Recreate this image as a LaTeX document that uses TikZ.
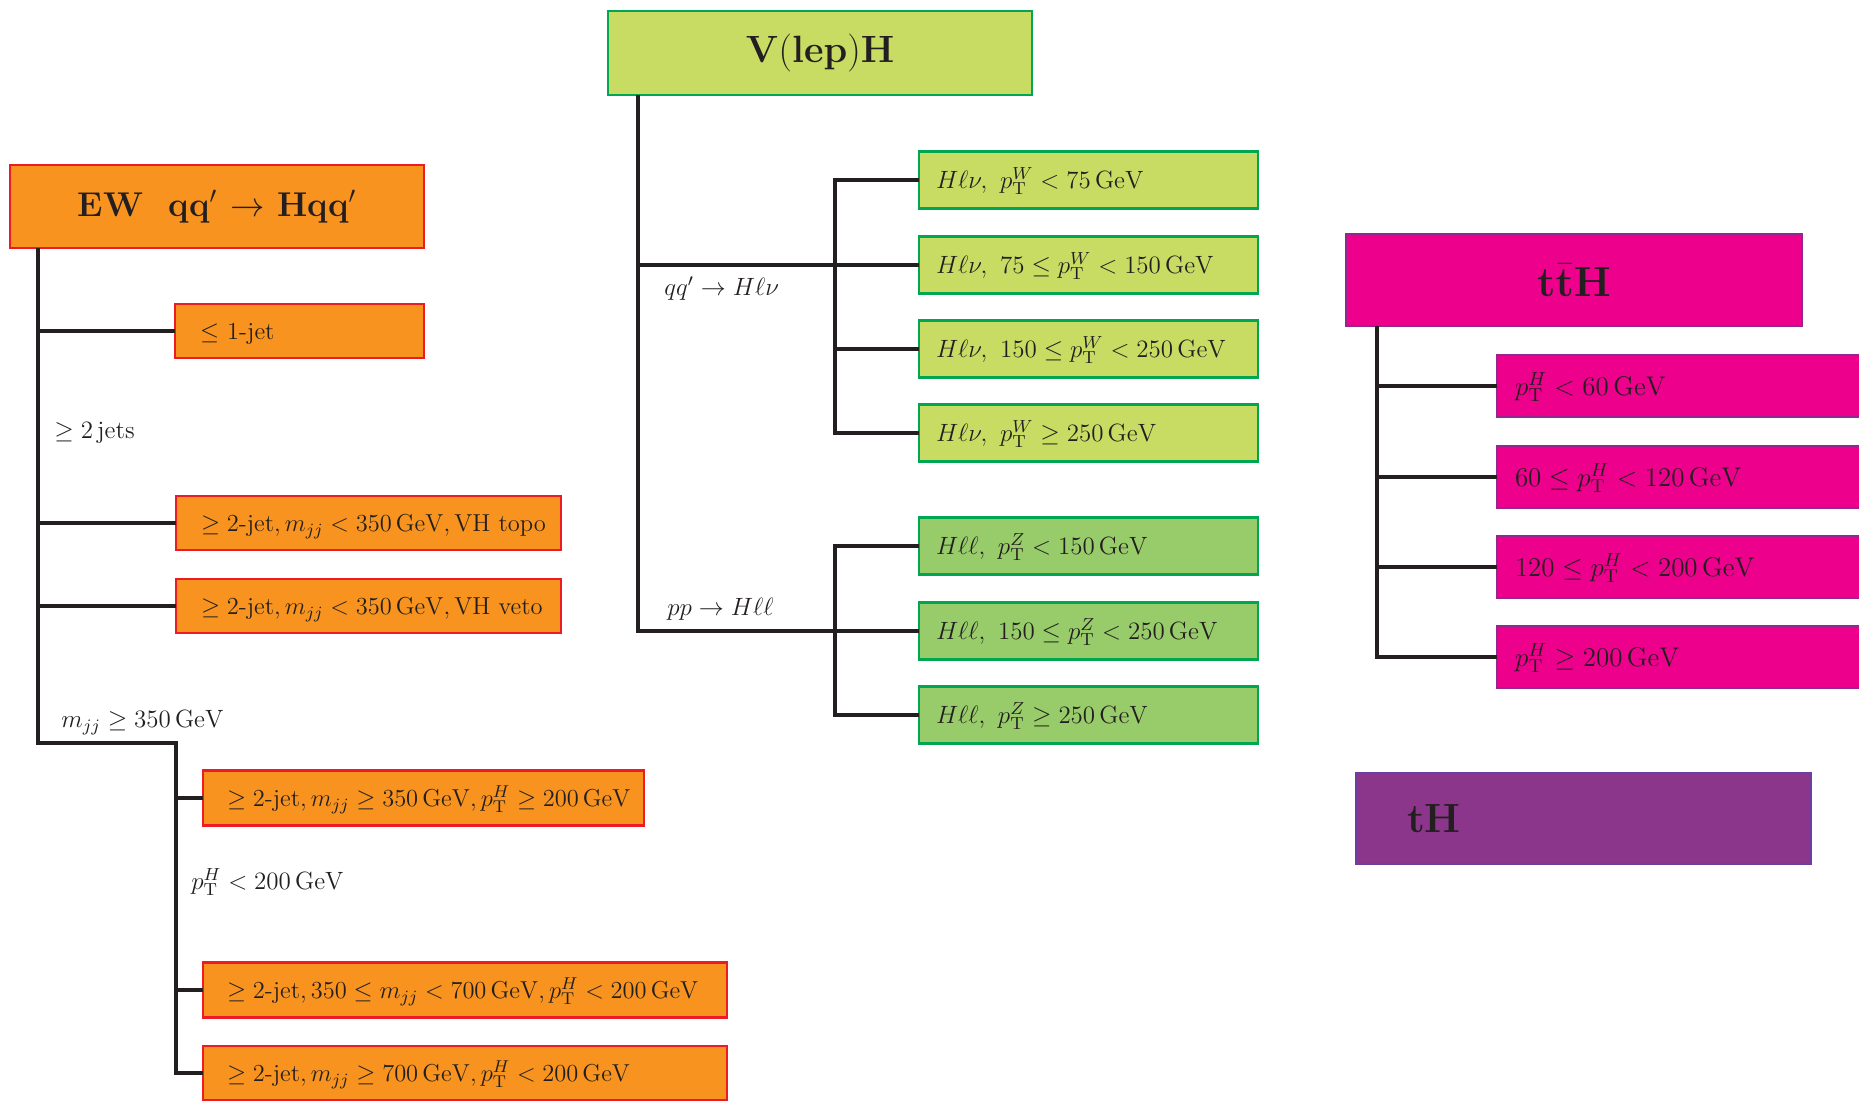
\RequirePackage{fix-cm}
\documentclass[tikz,border=0pt]{standalone}
\usepackage[no-math]{fontspec}
\definecolor{ewfill}{HTML}{F7931E}
\definecolor{ewline}{HTML}{ED1C24}
\definecolor{wfill}{HTML}{C8DC64}
\definecolor{zfill}{HTML}{98CC6A}
\definecolor{vline}{HTML}{00A651}
\definecolor{ttfill}{HTML}{EC008C}
\definecolor{ttline}{HTML}{92278F}
\definecolor{thfill}{HTML}{8B368B}
\definecolor{thline}{HTML}{6A3FA0}
\definecolor{ink}{HTML}{231F20}
\newcommand\leaffont{\fontsize{12.5}{15}\selectfont}
\newcommand\ewleaffont{\fontsize{12.25}{15}\selectfont}
\newcommand\ttleaffont{\fontsize{13.5}{16}\selectfont}
\newcommand\GeV{\,\mathrm{GeV}}
\newcommand\ptx[1]{p_{\mathrm{T}}^{#1}}
\tikzset{
  conn/.style={draw=ink, line width=1.6pt},
  headbox/.style={draw, rectangle, line width=1.4pt, inner sep=0pt, outer sep=0pt, text=ink},
  leaf/.style={draw, rectangle, line width=1.4pt, anchor=west, inner ysep=0pt,
               outer sep=0pt, align=left, text=ink, font=\leaffont,
               text height=8.6pt, text depth=0pt},
  lbl/.style={anchor=west, inner sep=0pt, text=ink, font=\leaffont},
  ewc/.style={fill=ewfill, draw=ewline, font=\ewleaffont},
  wc/.style={fill=wfill, draw=vline},
  zc/.style={fill=zfill, draw=vline},
  ttc/.style={fill=ttfill, draw=ttline, line width=1.1pt},
  ttleaf/.style={leaf, ttc, font=\ttleaffont, text height=9.2pt, minimum height=31pt,
                 inner xsep=9pt, text width=173.5pt},
}
\begin{document}
\begin{tikzpicture}[x=0.5pt, y=-0.5pt]
\useasboundingbox (0,0) rectangle (1859,1100);
\clip (0,0) rectangle (1859,1100);

% ---------- EW qq' -> Hqq' ----------
\node[headbox, fill=ewfill, draw=ewline, minimum width=207pt, minimum height=41.5pt,
      font=\fontsize{17.2}{20}\selectfont\bfseries] (ew) at (217,206.5)
      {EW\hspace{0.75em}qq$'$ $\to$ Hqq$'$};
\node[leaf, ewc, minimum height=27pt, inner xsep=12.5pt, text width=99.5pt] (l1) at (175,331)
      {\mbox{$\leq$ 1-jet}};
\node[leaf, ewc, minimum height=27pt, inner xsep=12.5pt, text width=167.5pt] (l2) at (176,523)
      {\mbox{$\geq 2$-jet$, m_{jj} < 350\GeV, \mathrm{VH}$ topo}};
\node[leaf, ewc, minimum height=27pt, inner xsep=12.5pt, text width=167.5pt] (l3) at (176,606)
      {\mbox{$\geq 2$-jet$, m_{jj} < 350\GeV, \mathrm{VH}$ veto}};
\node[leaf, ewc, minimum height=27.5pt, inner xsep=12pt, text width=196.5pt] (lA) at (203,798)
      {\mbox{$\geq 2$-jet$, m_{jj} \geq 350\GeV, \ptx{H} \geq 200\GeV$}};
\node[leaf, ewc, minimum height=27.5pt, inner xsep=12pt, text width=238pt] (lB) at (203,990)
      {\mbox{$\geq 2$-jet$, 350 \leq m_{jj} < 700\GeV, \ptx{H} < 200\GeV$}};
\node[leaf, ewc, minimum height=27pt, inner xsep=12pt, text width=238pt] (lC) at (203,1073)
      {\mbox{$\geq 2$-jet$, m_{jj} \geq 700\GeV, \ptx{H} < 200\GeV$}};
\node[lbl] (g2) at (54,433) {$\geq 2\,$jets};
\node[lbl] (mj) at (61,723) {$m_{jj} \geq 350\GeV$};
\node[lbl] (ph) at (191,882) {$\ptx{H} < 200\GeV$};

\coordinate (ewJ) at (38,743);
\coordinate (ewK) at (176,1073);
\draw[conn] (ew.south -| ewJ) -- (ewJ) -- (ewJ -| ewK) -- (ewK) -- (lC.west);
\draw[conn] (l1.west -| ewJ) -- (l1.west);
\draw[conn] (l2.west -| ewJ) -- (l2.west);
\draw[conn] (l3.west -| ewJ) -- (l3.west);
\draw[conn] (lA.west -| ewK) -- (lA.west);
\draw[conn] (lB.west -| ewK) -- (lB.west);

% ---------- V(lep)H ----------
\node[headbox, fill=wfill, draw=vline, minimum width=212pt, minimum height=42pt,
      font=\fontsize{19}{22}\selectfont] (vh) at (820,53)
      {$\mathbf{V}(\mathbf{lep})\mathbf{H}$};
\node[leaf, wc, minimum height=28.5pt, inner xsep=8.5pt, text width=152.5pt] (w1) at (919,180)
      {\mbox{$H\ell\nu,\ \ptx{W} < 75\GeV$}};
\node[leaf, wc, minimum height=28.5pt, inner xsep=8.5pt, text width=152.5pt] (w2) at (919,265)
      {\mbox{$H\ell\nu,\ 75 \leq \ptx{W} < 150\GeV$}};
\node[leaf, wc, minimum height=28.5pt, inner xsep=8.5pt, text width=152.5pt] (w3) at (919,349)
      {\mbox{$H\ell\nu,\ 150 \leq \ptx{W} < 250\GeV$}};
\node[leaf, wc, minimum height=28.5pt, inner xsep=8.5pt, text width=152.5pt] (w4) at (919,433)
      {\mbox{$H\ell\nu,\ \ptx{W} \geq 250\GeV$}};
\node[leaf, zc, minimum height=28.5pt, inner xsep=8.5pt, text width=152.5pt] (z1) at (919,546)
      {\mbox{$H\ell\ell,\ \ptx{Z} < 150\GeV$}};
\node[leaf, zc, minimum height=28.5pt, inner xsep=8.5pt, text width=152.5pt] (z2) at (919,631)
      {\mbox{$H\ell\ell,\ 150 \leq \ptx{Z} < 250\GeV$}};
\node[leaf, zc, minimum height=28.5pt, inner xsep=8.5pt, text width=152.5pt] (z3) at (919,715)
      {\mbox{$H\ell\ell,\ \ptx{Z} \geq 250\GeV$}};
\node[lbl] (qq) at (664,289) {$qq' \to H\ell\nu$};
\node[lbl] (pp) at (667,609) {$pp \to H\ell\ell$};

\coordinate (vhJ) at (638,631);
\coordinate (vsub) at (835,0);
\draw[conn] (vh.south -| vhJ) -- (vhJ) -- (z2.west);
\draw[conn] (w2.west -| vhJ) -- (w2.west);
\draw[conn] (w1.west) -- (w1.west -| vsub) -- (w4.west -| vsub) -- (w4.west);
\draw[conn] (w3.west -| vsub) -- (w3.west);
\draw[conn] (z1.west) -- (z1.west -| vsub) -- (z3.west -| vsub) -- (z3.west);

% ---------- ttH ----------
\node[headbox, ttc, minimum width=228pt, minimum height=46pt,
      font=\fontsize{21}{25}\selectfont] (tt) at (1574,280)
      {$\mathbf{t}\bar{\mathbf{t}}\mathbf{H}$};
\node[ttleaf] (t1) at (1497,386) {\mbox{$\ptx{H} < 60\GeV$}};
\node[ttleaf] (t2) at (1497,477) {\mbox{$60 \leq \ptx{H} < 120\GeV$}};
\node[ttleaf] (t3) at (1497,567) {\mbox{$120 \leq \ptx{H} < 200\GeV$}};
\node[ttleaf] (t4) at (1497,657) {\mbox{$\ptx{H} \geq 200\GeV$}};
\coordinate (ttS) at (1377,0);
\draw[conn] (tt.south -| ttS) -- (t4.west -| ttS) -- (t4.west);
\draw[conn] (t1.west -| ttS) -- (t1.west);
\draw[conn] (t2.west -| ttS) -- (t2.west);
\draw[conn] (t3.west -| ttS) -- (t3.west);

% ---------- tH ----------
\node[leaf, fill=thfill, draw=thline, line width=1.1pt, minimum height=45.5pt,
      inner xsep=25.5pt, text width=176.5pt, text height=14pt,
      font=\fontsize{20.4}{24}\selectfont\bfseries] (th) at (1356,818.5) {tH};
\end{tikzpicture}
\end{document}
